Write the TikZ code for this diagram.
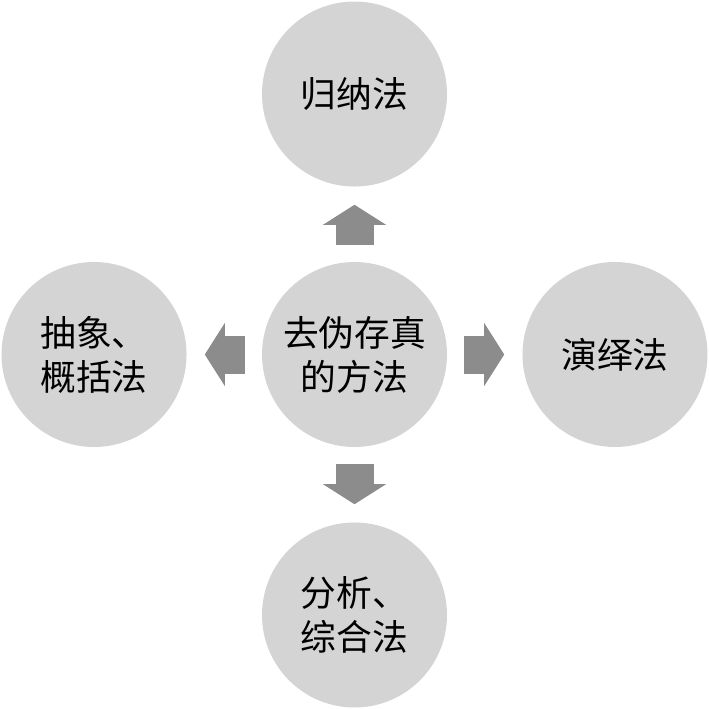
\documentclass[tikz,border=0pt]{standalone}
\usepackage{fontspec}
\usepackage{tikz}
\usetikzlibrary{arrows.meta,positioning}
\setmainfont{Noto Sans CJK SC}
\definecolor{circgray}{HTML}{D4D4D4}
\definecolor{arrowgray}{HTML}{8C8C8C}
\tikzset{
  method/.style={circle, fill=circgray, minimum size=5.55cm, inner sep=0pt, align=center, font=\fontsize{30.5}{37.5}\selectfont},
  bigarrow/.style={draw=arrowgray, line width=1.14cm, -{Triangle[width=1.86cm, length=0.6cm]}, shorten <=0.51cm, shorten >=0.54cm}
}
\begin{document}
\begin{tikzpicture}[x=0.03cm, y=-0.03cm, node distance=2.25cm]
  \useasboundingbox (0,0) rectangle (709,709);
  \node[method] (core) at (354.5,354.5) {去伪存真\\的方法};
  \node[method, above=of core] (induct) {归纳法};
  \node[method, below=of core] (analyse) {分析、\\综合法};
  \node[method, left=of core] (abstract) {抽象、\\概括法};
  \node[method, right=of core] (deduct) {演绎法};

  \draw[bigarrow] (core) -- (induct);
  \draw[bigarrow] (core) -- (analyse);
  \draw[bigarrow] (core) -- (abstract);
  \draw[bigarrow] (core) -- (deduct);
\end{tikzpicture}
\end{document}
